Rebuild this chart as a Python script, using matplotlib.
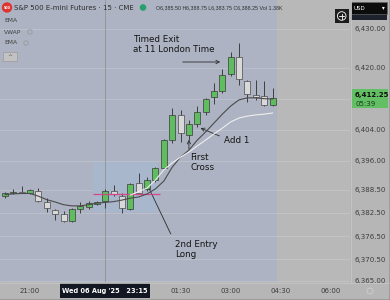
import numpy as np
import matplotlib
import matplotlib.pyplot as plt
from matplotlib.patches import Rectangle, Circle

matplotlib.use('Agg')

# 15 minute bars, 20:15 .. 04:15 (bar 0 = 21:00)
bar_idx = np.arange(-3, 30)
opens = [6386.75, 6387.50, 6388.00, 6387.50, 6388.25, 6385.25, 6383.25, 6382.25, 6380.50, 6383.50, 6384.00,
         6384.75, 6385.50, 6388.25, 6386.75, 6383.50, 6390.25, 6388.75, 6391.00, 6394.00, 6401.25, 6407.75,
         6402.50, 6405.50, 6408.50, 6412.50, 6414.00, 6418.25, 6422.75, 6416.50, 6413.00, 6412.75, 6410.25]
highs = [6388.00, 6388.75, 6389.50, 6388.75, 6389.00, 6386.25, 6383.50, 6383.00, 6383.75, 6385.25, 6385.50,
         6385.50, 6388.75, 6389.75, 6387.50, 6390.25, 6392.75, 6391.75, 6394.25, 6401.50, 6409.50, 6409.00,
         6406.50, 6410.00, 6412.25, 6416.00, 6419.75, 6424.00, 6426.50, 6416.75, 6416.75, 6416.50, 6414.75]
lows = [6386.25, 6387.25, 6387.50, 6387.25, 6385.25, 6382.75, 6380.75, 6380.25, 6380.25, 6382.50, 6383.50,
        6384.50, 6383.75, 6386.75, 6382.50, 6383.25, 6387.25, 6388.25, 6390.50, 6393.75, 6400.50, 6400.75,
        6401.25, 6404.75, 6407.75, 6410.50, 6413.50, 6417.75, 6415.50, 6411.25, 6411.75, 6410.00, 6410.00]
closes = [6387.75, 6388.00, 6387.50, 6388.50, 6385.50, 6383.75, 6382.25, 6380.50, 6383.50, 6384.25, 6385.00,
          6385.25, 6388.25, 6387.25, 6383.75, 6390.00, 6387.50, 6391.00, 6394.00, 6401.25, 6407.75, 6403.00,
          6405.50, 6408.50, 6412.00, 6414.00, 6418.00, 6422.75, 6417.00, 6413.25, 6412.50, 6410.25, 6412.25]

ema = [6387.2, 6387.4, 6387.5, 6387.5, 6386.8, 6385.9, 6385.3, 6384.6, 6384.3, 6384.3, 6384.6, 6385.0, 6385.2,
       6385.4, 6385.8, 6386.3, 6386.6, 6387.4, 6388.7, 6390.7, 6394.3, 6396.9, 6398.7, 6401.3, 6403.4, 6405.7,
       6408.0, 6410.1, 6411.7, 6412.2, 6412.2, 6412.0, 6411.9]
vwap_idx = np.arange(12, 30)
vwap = [6387.1, 6388.0, 6388.9, 6391.0, 6393.6, 6395.4, 6396.9, 6398.2, 6399.8, 6401.3, 6402.9, 6404.4,
        6406.0, 6407.0, 6407.5, 6407.8, 6408.0, 6408.3]

price_ticks = [6430, 6420, 6404, 6396, 6388.5, 6382.5, 6376.5, 6370.5, 6365]
time_ticks = [0, 18, 24, 30, 36]
time_labels = ['21:00', '01:30', '03:00', '04:30', '06:00']
last_price = 6412.25
entry_price = 6387.25
cursor_bar = 9

plt.rcParams['font.family'] = ['DejaVu Sans']

fig = plt.figure(figsize=(3.9, 3.0), dpi=100)
fig.patch.set_facecolor('#b6b6b6')
ax = fig.add_axes([0, 18 / 300, 350 / 390, 282 / 300])
ax.set_facecolor('#b8b8b8')
ax.set_xlim(-3.6, 38.27)
ax.set_ylim(6364.63, 6437.49)
for s in ax.spines.values():
    s.set_visible(False)

# session shading + drawn box
ax.axvspan(-3.6, 29.5, color='#adb3c2', lw=0, zorder=0)
ax.add_patch(Rectangle((7.5, 6382.7), 7.8, 12.9, color='#a8b7cb', lw=0, zorder=0.6))
for p in price_ticks + [6412]:
    ax.axhline(p, color='white', alpha=0.2, lw=0.6, zorder=0.5)
ax.axvline(cursor_bar, color='#8a8a8a', lw=0.5, zorder=1)
ax.hlines(entry_price, 7.5, 15.6, color='#d6478a', lw=0.9, zorder=3.5)

# candles
o = np.array(opens)
c = np.array(closes)
h = np.array(highs)
l = np.array(lows)
up = c >= o
ax.vlines(bar_idx, l, h, color='#3f3f3f', lw=0.7, zorder=2)
ax.bar(bar_idx[up], (c - o)[up], bottom=o[up], width=0.72, color='#5fbd5f', edgecolor='#3a3a3a', lw=0.5, zorder=3)
ax.bar(bar_idx[~up], (o - c)[~up], bottom=c[~up], width=0.72, color='#d8d8d8', edgecolor='#4a4a4a', lw=0.5, zorder=3)

ax.plot(bar_idx, ema, color='#4b4b4b', lw=0.8, zorder=4)
ax.plot(vwap_idx, vwap, color='#eeeeee', lw=0.8, zorder=4)

# annotations
arr = dict(arrowstyle='->', color='#2b2b2b', lw=0.6, mutation_scale=6)
tc = '#151515'
ax.text(12.3, 6428.45, 'Timed Exit\nat 11 London Time', fontsize=6.3, va='top', ha='left', color=tc)
ax.annotate('', xy=(23.07, 6421.47), xytext=(17.93, 6421.47), arrowprops=arr)
ax.text(23.19, 6401.06, 'Add 1', fontsize=6.3, va='center', ha='left', color=tc)
ax.annotate('', xy=(20.08, 6404.68), xytext=(22.95, 6402.09), arrowprops=arr)
ax.text(19.13, 6397.96, 'First\nCross', fontsize=6.3, va='top', ha='left', color=tc)
ax.annotate('', xy=(19.0, 6402.1), xytext=(19.0, 6398.2), arrowprops=arr)
ax.text(17.33, 6375.6, '2nd Entry\nLong', fontsize=6.3, va='top', ha='left', color=tc)
ax.annotate('', xy=(14.1, 6389.4), xytext=(16.97, 6376.4), arrowprops=dict(arrowstyle='-', color='#2b2b2b', lw=0.6))

# axes ticks
ax.yaxis.tick_right()
ax.set_yticks(price_ticks)
ax.set_yticklabels([f'{p:,.2f}' for p in price_ticks])
ax.tick_params(axis='y', length=0, pad=3, labelsize=5, labelcolor='#3c3c3c')
ax.set_xticks(time_ticks, time_labels)
ax.tick_params(axis='x', length=0, pad=4.5, labelsize=5, labelcolor='#3c3c3c')

# overlay with the platform chrome, pixel units
ui = fig.add_axes([0, 0, 1, 1], zorder=10)
ui.set_xlim(0, 390)
ui.set_ylim(300, 0)
ui.axis('off')
ui.plot([350.5, 350.5], [0, 282], color='#c6c6c6', lw=0.6)
ui.plot([0, 390], [282.5, 282.5], color='#c6c6c6', lw=0.6)
ui.plot([389.5, 389.5], [0, 300], color='#3a3a3a', lw=1)
ui.plot([0, 390], [299.5, 299.5], color='#3a3a3a', lw=1)

ui.add_patch(Circle((7, 7.5), 4.5, color='#df3430'))
ui.text(7, 7.6, '500', fontsize=2.4, color='white', weight='bold', ha='center', va='center')
ui.text(14.5, 7.5, 'S&P 500 E-mini Futures · 15 · CME', fontsize=5.0, va='center', color='#2d2d2d')
ui.add_patch(Circle((143, 7.5), 2.6, color='#27a06e'))
ui.text(156, 7.5, 'O6,385.50 H6,388.75 L6,383.75 C6,388.25 Vol 1.38K', fontsize=3.8,
        family='Liberation Sans', va='center', color='#2d2d2d')

ui.text(4, 20, 'EMA', fontsize=4.3, va='center', color='#404040')
ui.text(4, 32, 'VWAP', fontsize=4.3, va='center', color='#404040')
ui.text(4, 43, 'EMA', fontsize=4.3, va='center', color='#404040')
for ex, ey in [(30, 32), (26, 43)]:
    ui.add_patch(Circle((ex, ey), 2.2, fc='none', ec='#9a9a9a', lw=0.6))
ui.add_patch(Rectangle((3, 52), 14, 9, fc='#c2c2c2', ec='#9a9a9a', lw=0.5))
ui.text(10, 57, '^', fontsize=4.5, ha='center', va='center', color='#555')

ui.add_patch(Rectangle((351, 14), 36, 6, fc='#1e222d'))
ui.add_patch(Rectangle((351, 2), 36, 12, fc='#0c0c0c', ec='#666', lw=0.5))
ui.text(354, 8, 'USD', fontsize=4, color='white', va='center')
ui.text(383, 8, '▾', fontsize=4, color='white', va='center', ha='center')
ui.add_patch(Rectangle((335, 9), 13.5, 14, fc='#1c1c1c'))
ui.add_patch(Circle((341.7, 16), 4.3, fc='none', ec='white', lw=0.6))
ui.plot([339.2, 344.2], [16, 16], color='white', lw=0.6)
ui.plot([341.7, 341.7], [13.5, 18.5], color='white', lw=0.6)

ui.add_patch(Rectangle((352, 89), 36, 19, fc='#63bf63'))
ui.text(355, 94.5, f'{last_price:,.2f}', fontsize=5, weight='bold', color='#111', va='center')
ui.text(355, 103.5, '05:39', fontsize=5, color='#1c3a1c', va='center')

ui.add_patch(Rectangle((60, 283), 90, 14.5, fc='#131722'))
ui.text(105, 290.5, "Wed 06 Aug '25   23:15", fontsize=4.8, color='white', weight='bold', ha='center', va='center')
ui.add_patch(Circle((370, 291), 3, fc='none', ec='#cfcfcf', lw=0.6))

fig.savefig('out.png', dpi=100, facecolor=fig.get_facecolor())
